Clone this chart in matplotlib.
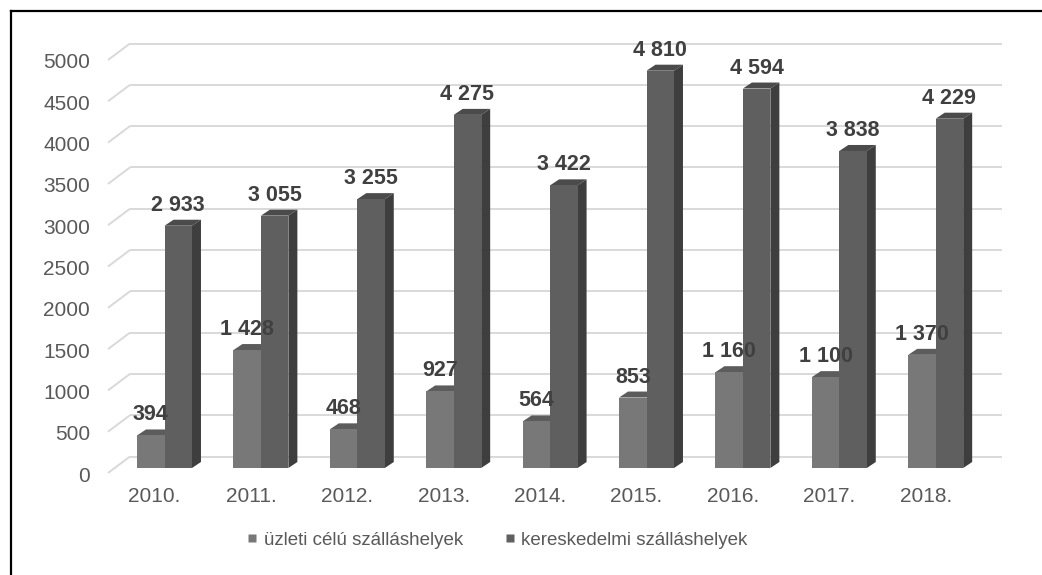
import matplotlib
matplotlib.use("Agg")
import matplotlib.pyplot as plt
from matplotlib.patches import Polygon
from matplotlib.lines import Line2D
from matplotlib.transforms import ScaledTranslation

# ---------------- data ----------------
years = ["2010.", "2011.", "2012.", "2013.", "2014.", "2015.", "2016.", "2017.", "2018."]
uzleti = [394, 1428, 468, 927, 564, 853, 1160, 1100, 1370]
kereskedelmi = [2933, 3055, 3255, 4275, 3422, 4810, 4594, 3838, 4229]
series_names = ["üzleti célú szálláshelyek", "kereskedelmi szálláshelyek"]
yticks = list(range(0, 5001, 500))

# ---------------- style ----------------
plt.rcParams['font.family'] = ['Liberation Sans', 'DejaVu Sans']
LIGHT_FRONT, LIGHT_TOP = "#787878", "#5c5c5c"
DARK_FRONT, DARK_TOP, DARK_SIDE = "#5f5f5f", "#4b4b4b", "#3e3e3e"
GRID = "#d9d9d9"
TICK_COLOR = "#595959"
LABEL_COLOR = "#404040"

W, H, DPI = 1042, 575, 100
fig = plt.figure(figsize=(W / DPI, H / DPI), dpi=DPI)
fig.patch.set_facecolor("white")

# axes geometry in pixels (from top-left)
AX_L, AX_R, AX_T, AX_B = 108, 1002, 55, 468
CAT0, CATSTEP = 164.5, 96.4
ax = fig.add_axes([AX_L / W, 1 - AX_B / H, (AX_R - AX_L) / W, (AX_B - AX_T) / H])
x_lo, x_hi = (AX_L - CAT0) / CATSTEP, (AX_R - CAT0) / CATSTEP
ax.set_xlim(x_lo, x_hi)
ax.set_ylim(0, 5000)
ax.patch.set_alpha(0)
for s in ax.spines.values():
    s.set_visible(False)


def dxd(px):
    return px / CATSTEP


def dyd(px):
    return px * 5000 / (AX_B - AX_T)


# depth of the 3D effect
DEPTH_X, DEPTH_Y = 9, 6
BACK_UP, FRONT_DOWN, WALL_DX = 11.5, 5, 22

# back wall gridlines + floor diagonals
for v in yticks:
    vb = v + dyd(BACK_UP)
    vf = v - dyd(FRONT_DOWN)
    xb = x_lo + dxd(WALL_DX)
    ax.plot([x_lo, xb], [vf, vb], color=GRID, lw=1.4, clip_on=False, zorder=1,
            solid_capstyle='butt')
    ax.plot([xb, x_hi], [vb, vb], color=GRID, lw=1.4, clip_on=False, zorder=1,
            solid_capstyle='butt')

# bars
BW = 0.285
xs = list(range(len(years)))
light = ax.bar([x - BW / 2 for x in xs], uzleti, width=BW, color=LIGHT_FRONT,
               linewidth=0, zorder=4)
dark = ax.bar([x + BW / 2 for x in xs], kereskedelmi, width=BW, color=DARK_FRONT,
              linewidth=0, zorder=6)

ddx, ddy = dxd(DEPTH_X), dyd(DEPTH_Y)
for rect in light:
    x0, w, h = rect.get_x(), rect.get_width(), rect.get_height()
    top = Polygon([(x0, h), (x0 + w, h), (x0 + w + ddx, h + ddy), (x0 + ddx, h + ddy)],
                  closed=True, facecolor=LIGHT_TOP, edgecolor='none', zorder=3, clip_on=False)
    ax.add_patch(top)
for rect in dark:
    x0, w, h = rect.get_x(), rect.get_width(), rect.get_height()
    top = Polygon([(x0, h), (x0 + w, h), (x0 + w + ddx, h + ddy), (x0 + ddx, h + ddy)],
                  closed=True, facecolor=DARK_TOP, edgecolor='none', zorder=5, clip_on=False)
    side = Polygon([(x0 + w, 0), (x0 + w, h), (x0 + w + ddx, h + ddy), (x0 + w + ddx, ddy)],
                   closed=True, facecolor=DARK_SIDE, edgecolor='none', zorder=5, clip_on=False)
    ax.add_patch(top)
    ax.add_patch(side)


def fmt(v):
    return f"{v:,}".replace(",", " ")


for bars, vals in ((light, uzleti), (dark, kereskedelmi)):
    for rect, v in zip(bars, vals):
        ax.annotate(fmt(v), xy=(rect.get_x() + rect.get_width() / 2, v),
                    xytext=(0, 15 * 0.72), textcoords='offset points',
                    ha='center', va='baseline', fontsize=15.5, fontweight='bold',
                    color=LABEL_COLOR, zorder=10, annotation_clip=False)

# ticks
ax.set_yticks(yticks)
ax.set_yticklabels([str(t) for t in yticks])
ax.set_xticks(xs)
ax.set_xticklabels(years)
ax.tick_params(axis='both', length=0, labelsize=15, labelcolor=TICK_COLOR)
ax.tick_params(axis='y', pad=13)
ax.tick_params(axis='x', pad=14)
for lab in ax.get_yticklabels():
    lab.set_transform(lab.get_transform() + ScaledTranslation(0, -6 / DPI, fig.dpi_scale_trans))
for lab in ax.get_xticklabels():
    lab.set_transform(lab.get_transform() + ScaledTranslation(-10 / DPI, 0, fig.dpi_scale_trans))

# legend
handles = [Line2D([], [], marker='s', linestyle='none', markersize=6,
                  markerfacecolor=LIGHT_FRONT, markeredgecolor='none'),
           Line2D([], [], marker='s', linestyle='none', markersize=6,
                  markerfacecolor=DARK_FRONT, markeredgecolor='none')]
fig.legend(handles, series_names, loc='center', bbox_to_anchor=(497 / W, 1 - 540 / H),
           ncol=2, frameon=False, fontsize=13.5, handlelength=0.6, handletextpad=0.3,
           columnspacing=2.2, labelcolor=TICK_COLOR)

# partial frame (left and top)
fig.add_artist(Line2D([10.5 / W, 10.5 / W], [0, 1 - 10.5 / H], color='black', lw=1.6,
                      transform=fig.transFigure))
fig.add_artist(Line2D([10.5 / W, 1], [1 - 10.5 / H, 1 - 10.5 / H], color='black', lw=1.6,
                      transform=fig.transFigure))

fig.savefig("out.png", dpi=DPI, facecolor='white')
